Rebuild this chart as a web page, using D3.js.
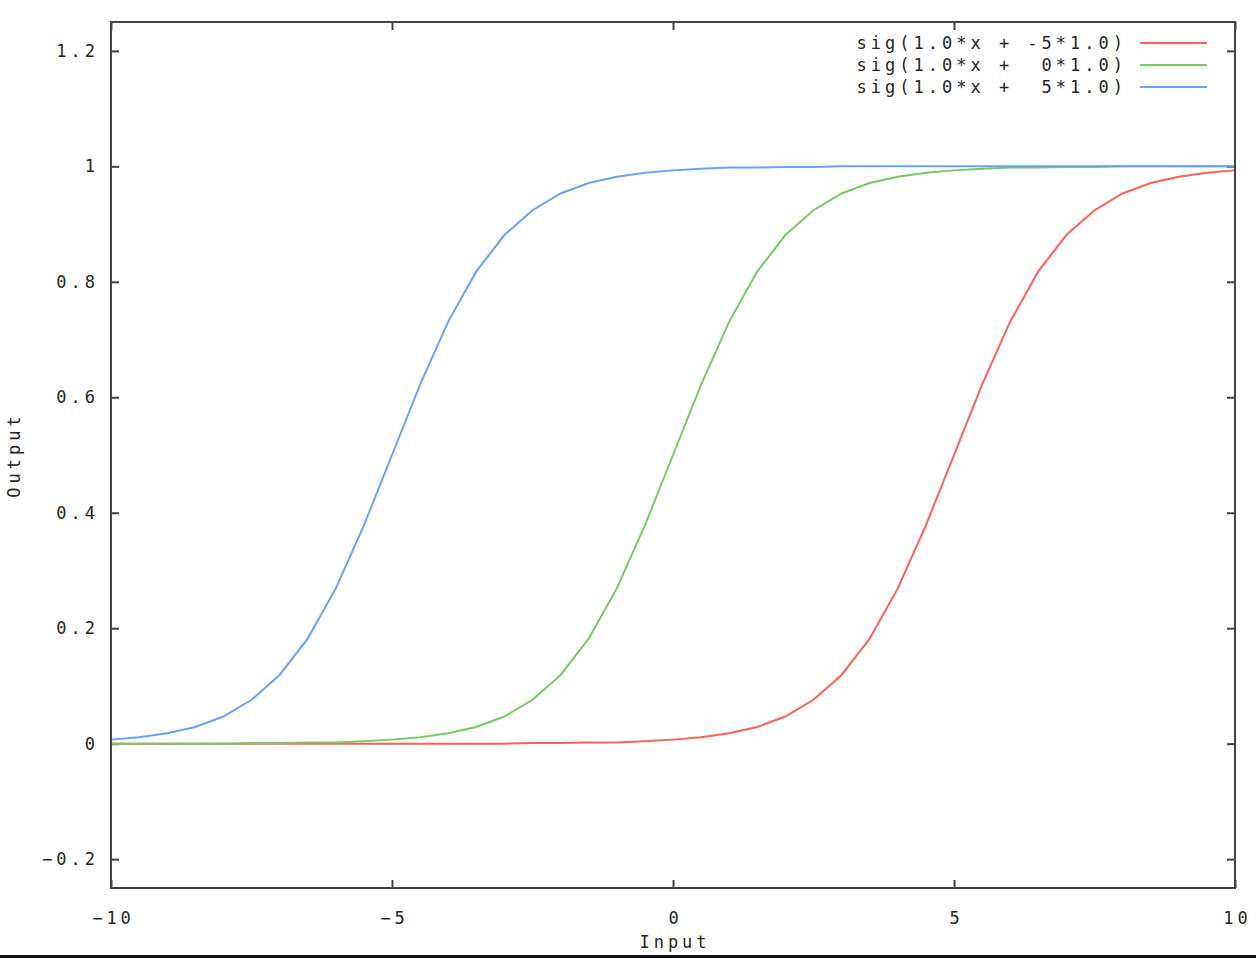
<!DOCTYPE html>
<html>
<head>
<meta charset="utf-8">
<script src="https://cdn.jsdelivr.net/npm/d3@7"></script>
<style>
  body { margin: 0; background: #fff; }
  svg text { font-family: "DejaVu Sans Mono", monospace; font-size: 17px; fill: #262626; letter-spacing: 4px; }
</style>
</head>
<body>
<svg id="chart"></svg>
<script>
// x samples, step 0.5
var xs = [-10, -9.5, -9, -8.5, -8, -7.5, -7, -6.5, -6, -5.5, -5, -4.5, -4, -3.5, -3, -2.5, -2, -1.5, -1, -0.5,
    0, 0.5, 1, 1.5, 2, 2.5, 3, 3.5, 4, 4.5, 5, 5.5, 6, 6.5, 7, 7.5, 8, 8.5, 9, 9.5, 10];

var redVals = [0, 0, 0, 0, 0, 0, 0, 0, 0, 0, 0, 0, 0, 0, 0, 0.001, 0.001, 0.002, 0.002, 0.004,
    0.007, 0.011, 0.018, 0.029, 0.047, 0.076, 0.119, 0.182, 0.269, 0.378, 0.5, 0.622, 0.731, 0.818, 0.881, 0.924,
    0.953, 0.971, 0.982, 0.989, 0.993];
var greenVals = [0, 0, 0, 0, 0, 0.001, 0.001, 0.002, 0.002, 0.004, 0.007, 0.011, 0.018, 0.029, 0.047, 0.076, 0.119, 0.182, 0.269, 0.378,
    0.5, 0.622, 0.731, 0.818, 0.881, 0.924, 0.953, 0.971, 0.982, 0.989, 0.993, 0.996, 0.998, 0.998, 0.999, 0.999,
    1, 1, 1, 1, 1];
var blueVals = [0.007, 0.011, 0.018, 0.029, 0.047, 0.076, 0.119, 0.182, 0.269, 0.378, 0.5, 0.622, 0.731, 0.818, 0.881, 0.924, 0.953, 0.971, 0.982, 0.989,
    0.993, 0.996, 0.998, 0.998, 0.999, 0.999, 1, 1, 1, 1, 1, 1, 1, 1, 1, 1,
    1, 1, 1, 1, 1];

var seriesNames = ["sig(1.0*x + -5*1.0)", "sig(1.0*x +  0*1.0)", "sig(1.0*x +  5*1.0)"];
var seriesColors = ["#ff6058", "#76cc62", "#68a2ff"];
var xTicks = [-10, -5, 0, 5, 10];
var yTicks = [-0.2, 0, 0.2, 0.4, 0.6, 0.8, 1, 1.2];

var totalWidth = 1256;
var totalHeight = 958;
var margin = { top: 22, right: 21, bottom: 70, left: 111 };
var width = totalWidth - margin.left - margin.right;
var height = totalHeight - margin.top - margin.bottom;

var svg = d3.select("#chart")
    .attr("width", totalWidth)
    .attr("height", totalHeight);

var x = d3.scaleLinear().domain([-10, 10]).range([0, width]);
var y = d3.scaleLinear().domain([-0.25, 1.25]).range([height, 0]);

var g = svg.append("g")
    .attr("transform", "translate(" + margin.left + "," + margin.top + ")");

// ticks on all four sides, pointing inward
function styleAxis(sel) {
    sel.select(".domain").remove();
    sel.selectAll(".tick line").attr("stroke", "#444").attr("stroke-width", 2);
}

g.append("g")
    .attr("transform", "translate(0," + height + ")")
    .call(d3.axisBottom(x).tickValues(xTicks).tickSize(-8).tickPadding(24).tickFormat(d3.format("d")))
    .call(styleAxis)
    .selectAll("text").attr("fill", "#262626").attr("dx", "2px").style("font-size", "17px");

g.append("g")
    .call(d3.axisTop(x).tickValues(xTicks).tickSize(-8).tickFormat(""))
    .call(styleAxis);

g.append("g")
    .call(d3.axisLeft(y).tickValues(yTicks).tickSize(-8).tickPadding(12).tickFormat(function (d) { return d3.format("")(+d.toFixed(1)); }))
    .call(styleAxis)
    .selectAll("text").attr("fill", "#262626").style("font-size", "17px");

g.append("g")
    .attr("transform", "translate(" + width + ",0)")
    .call(d3.axisRight(y).tickValues(yTicks).tickSize(-8).tickFormat(""))
    .call(styleAxis);

// curves
var allVals = [redVals, greenVals, blueVals];
var line = d3.line()
    .x(function (d, i) { return x(xs[i]); })
    .y(function (d) { return y(d); });

allVals.forEach(function (vals, k) {
    g.append("path")
        .datum(vals)
        .attr("fill", "none")
        .attr("stroke", seriesColors[k])
        .attr("stroke-width", 2)
        .attr("d", line);
});

// frame
g.append("rect")
    .attr("width", width)
    .attr("height", height)
    .attr("fill", "none")
    .attr("stroke", "#444")
    .attr("stroke-width", 2);

// legend
var legend = g.append("g").attr("transform", "translate(" + (width - 95) + ",21)");
seriesNames.forEach(function (name, k) {
    legend.append("text")
        .attr("x", -13)
        .attr("y", k * 22)
        .attr("dy", "0.35em")
        .attr("text-anchor", "end")
        .style("white-space", "pre")
        .attr("xml:space", "preserve")
        .text(name);
    legend.append("line")
        .attr("x1", 0).attr("x2", 67)
        .attr("y1", k * 22).attr("y2", k * 22)
        .attr("stroke", seriesColors[k])
        .attr("stroke-width", 2);
});

// axis titles
svg.append("text")
    .attr("x", margin.left + width / 2 + 2)
    .attr("y", 948)
    .attr("text-anchor", "middle")
    .text("Input");

svg.append("text")
    .attr("transform", "translate(20," + (margin.top + height / 2) + ") rotate(-90)")
    .attr("text-anchor", "middle")
    .text("Output");

// black strip along bottom edge
svg.append("rect")
    .attr("x", 0).attr("y", 955)
    .attr("width", totalWidth).attr("height", 3)
    .attr("fill", "#111");
</script>
</body>
</html>
